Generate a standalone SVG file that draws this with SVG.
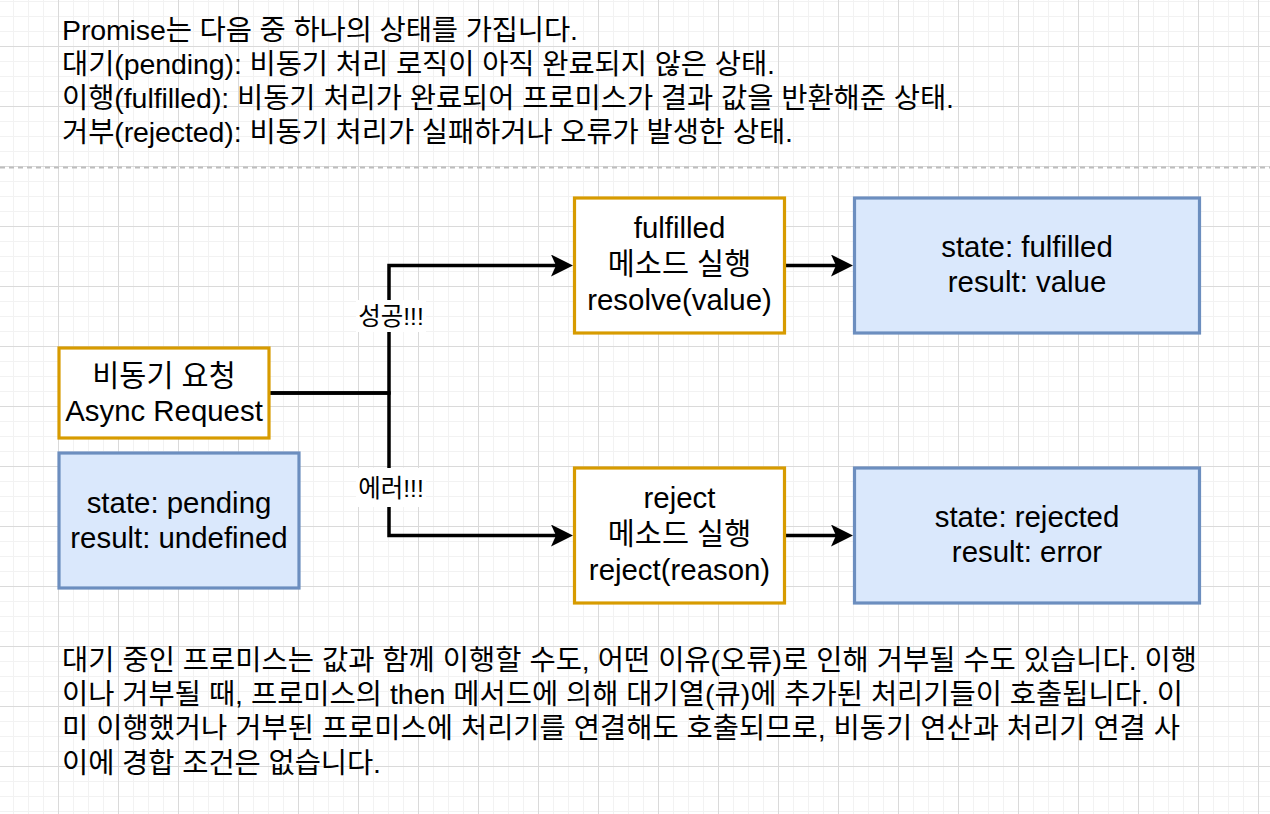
<svg xmlns="http://www.w3.org/2000/svg" width="1270" height="814" viewBox="0 0 1270 814">
  <style>
    text { font-family: "Liberation Sans", "Noto Sans CJK KR", sans-serif; fill: #000000; }
    .t { font-size: 28.5px; }
    .b { font-size: 29.4px; text-anchor: middle; }
    .lbl { font-size: 24.5px; text-anchor: middle; }
    .orange { fill: #ffffff; stroke: #d79b00; stroke-width: 3.2; }
    .blue { fill: #dae8fc; stroke: #6c8ebf; stroke-width: 3.2; }
    .edge { fill: none; stroke: #000000; stroke-width: 3.5; }
  </style>
  <defs>
    <pattern id="grid" patternUnits="userSpaceOnUse" x="58" y="46" width="60" height="60">
      <rect x="15" y="0" width="1" height="60" fill="#f2f2f2"/>
      <rect x="30" y="0" width="1" height="60" fill="#f2f2f2"/>
      <rect x="45" y="0" width="1" height="60" fill="#f2f2f2"/>
      <rect x="0" y="15" width="60" height="1" fill="#f2f2f2"/>
      <rect x="0" y="30" width="60" height="1" fill="#f2f2f2"/>
      <rect x="0" y="45" width="60" height="1" fill="#f2f2f2"/>
      <rect x="0" y="0" width="1" height="60" fill="#dadada"/>
      <rect x="0" y="0" width="60" height="1" fill="#dadada"/>
    </pattern>
    <marker id="arrow" markerUnits="userSpaceOnUse" markerWidth="22" markerHeight="22" refX="7" refY="11" orient="auto" viewBox="0 0 22 22">
      <path d="M0,0 L22,11 L0,22 L5,11 Z" fill="#000000"/>
    </marker>
  </defs>

  <rect x="0" y="0" width="1270" height="814" fill="#ffffff"/>
  <rect x="0" y="0" width="1270" height="814" fill="url(#grid)"/>

  <line x1="0" y1="167.5" x2="1270" y2="167.5" stroke="#bdbdbd" stroke-width="2" stroke-dasharray="5 4"/>

  <g id="intro-text">
    <text class="t" x="62" y="39.5" textLength="516" lengthAdjust="spacing">Promise는 다음 중 하나의 상태를 가집니다.</text>
    <text class="t" x="62" y="73.7" textLength="713" lengthAdjust="spacing">대기(pending): 비동기 처리 로직이 아직 완료되지 않은 상태.</text>
    <text class="t" x="62" y="107.9" textLength="892" lengthAdjust="spacing">이행(fulfilled): 비동기 처리가 완료되어 프로미스가 결과 값을 반환해준 상태.</text>
    <text class="t" x="62" y="142.1" textLength="731" lengthAdjust="spacing">거부(rejected): 비동기 처리가 실패하거나 오류가 발생한 상태.</text>
  </g>

  <g id="connectors">
    <path class="edge" d="M270,393 H389 V265.5 H558" marker-end="url(#arrow)"/>
    <path class="edge" d="M270,393 H389 V535.5 H558" marker-end="url(#arrow)"/>
    <path class="edge" d="M786,265.5 H838" marker-end="url(#arrow)"/>
    <path class="edge" d="M786,535.5 H838" marker-end="url(#arrow)"/>
    <g id="label-success">
      <rect x="356" y="300" width="70" height="32" fill="#ffffff"/>
      <text class="lbl" x="391" y="325">성공!!!</text>
    </g>
    <g id="label-error">
      <rect x="356" y="468" width="70" height="39" fill="#ffffff"/>
      <text class="lbl" x="391" y="497">에러!!!</text>
    </g>
  </g>

  <g id="node-async-request">
    <rect class="orange" x="59" y="348" width="210" height="90"/>
    <text class="b" x="164" y="386">비동기 요청</text>
    <text class="b" x="164" y="420.5">Async Request</text>
  </g>

  <g id="node-pending">
    <rect class="blue" x="59" y="453" width="240" height="135"/>
    <text class="b" x="179" y="513">state: pending</text>
    <text class="b" x="179" y="548">result: undefined</text>
  </g>

  <g id="node-fulfilled-method">
    <rect class="orange" x="574.5" y="198" width="210" height="135"/>
    <text class="b" x="679.5" y="238">fulfilled</text>
    <text class="b" x="679.5" y="274">메소드 실행</text>
    <text class="b" x="679.5" y="310">resolve(value)</text>
  </g>

  <g id="node-fulfilled-state">
    <rect class="blue" x="854.5" y="198" width="345" height="135"/>
    <text class="b" x="1027" y="257">state: fulfilled</text>
    <text class="b" x="1027" y="292">result: value</text>
  </g>

  <g id="node-reject-method">
    <rect class="orange" x="574.5" y="468" width="210" height="135"/>
    <text class="b" x="679.5" y="508">reject</text>
    <text class="b" x="679.5" y="544">메소드 실행</text>
    <text class="b" x="679.5" y="580">reject(reason)</text>
  </g>

  <g id="node-rejected-state">
    <rect class="blue" x="854.5" y="468" width="345" height="135"/>
    <text class="b" x="1027" y="527">state: rejected</text>
    <text class="b" x="1027" y="562">result: error</text>
  </g>

  <g id="outro-text">
    <text class="t" x="62" y="670" textLength="1135" lengthAdjust="spacing">대기 중인 프로미스는 값과 함께 이행할 수도, 어떤 이유(오류)로 인해 거부될 수도 있습니다. 이행</text>
    <text class="t" x="62" y="704.2" textLength="1121" lengthAdjust="spacing">이나 거부될 때, 프로미스의 then 메서드에 의해 대기열(큐)에 추가된 처리기들이 호출됩니다. 이</text>
    <text class="t" x="62" y="738.4" textLength="1118" lengthAdjust="spacing">미 이행했거나 거부된 프로미스에 처리기를 연결해도 호출되므로, 비동기 연산과 처리기 연결 사</text>
    <text class="t" x="62" y="772.6" textLength="319" lengthAdjust="spacing">이에 경합 조건은 없습니다.</text>
  </g>
</svg>
